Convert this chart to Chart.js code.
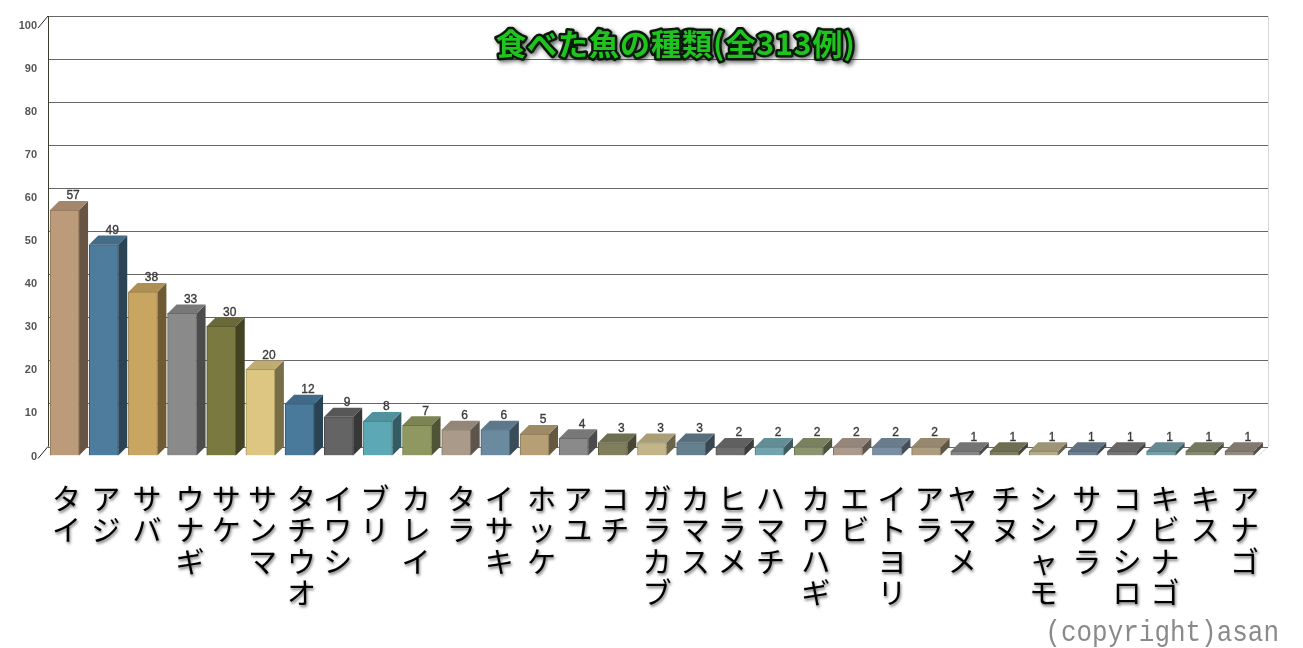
<!DOCTYPE html>
<html><head><meta charset="utf-8">
<style>html,body{margin:0;padding:0;background:#fff}#w{position:relative;width:1303px;height:648px}</style>
<script src="https://cdn.jsdelivr.net/npm/chart.js@4/dist/chart.umd.min.js"></script>
</head><body><div id="w"><canvas id="c" width="1303" height="648"></canvas></div>
<script>
const TITLE = '食べた魚の種類(全313例)';
const COPYRIGHT = '(copyright)asan';
const categories = ['タイ','アジ','サバ','ウナギ','サケ','サンマ','タチウオ','イワシ','ブリ','カレイ','タラ','イサキ','ホッケ','アユ','コチ','ガラカブ','カマス','ヒラメ','ハマチ','カワハギ','エビ','イトヨリ','アラ','ヤマメ','チヌ','シシャモ','サワラ','コノシロ','キビナゴ','キス','アナゴ'];
const values = [57,49,38,33,30,20,12,9,8,7,6,6,5,4,3,3,3,2,2,2,2,2,2,1,1,1,1,1,1,1,1];
const colors = ['#bc9b7a','#4d7c9c','#c8a561','#8a8a8a','#7a7a40','#dcc681','#4a7a9b','#646464','#5ca8b5','#8f9860','#a99a8a','#6a8a9f','#b79f75','#8a8a8a','#7f7f5d','#c2b688','#64808f','#6e6e6e','#73a3ac','#8a9570','#aa9a8c','#7a90a2','#ac9c80','#858585','#7e7e62','#b3ab8a','#6f8294','#767676','#759ea8','#878a70','#948a80'];
const yTicks = [0,10,20,30,40,50,60,70,80,90,100];
const labelNudge = [0,0,2,6,3,0,0,-3,-5,-3,3,2,5,2,0,3,2,0,-1,5,5,3,1,-5,-1,-2,2,3,2,3,3];
const DX = 9, DY = 9;
function shade(h,f){const n=parseInt(h.slice(1),16);return 'rgb('+[(n>>16)&255,(n>>8)&255,n&255].map(v=>Math.round(v*f)).join(',')+')';}
function poly(ctx,pts,fill){ctx.beginPath();pts.forEach((p,i)=>i?ctx.lineTo(p[0],p[1]):ctx.moveTo(p[0],p[1]));ctx.closePath();ctx.fillStyle=fill;ctx.fill();}
const wall3d = {
  id:'wall3d',
  beforeDraw(chart){
    const x=chart.scales.x, ctx=chart.ctx;
    if(!x._wrapped){
      x._wrapped=true;
      const orig=x.drawLabels, getItems=x.getLabelItems;
      x.getLabelItems=function(a){
        const items=getItems.call(this,a);
        if(!this._nudged){this._nudged=true;items.forEach((it,i)=>{it.options.translation[0]+=labelNudge[i];});}
        return items;
      };
      x.drawLabels=function(a){ctx.save();ctx.shadowColor='rgba(0,0,0,.55)';ctx.shadowBlur=3;ctx.shadowOffsetX=1;ctx.shadowOffsetY=2;orig.call(this,a);ctx.restore();};
    }
  },
  beforeDatasetsDraw(chart){
    const ctx=chart.ctx, y=chart.scales.y, a=chart.chartArea;
    const L=a.left-6+DX, R=a.right+DX, fL=a.left-6;
    ctx.save();
    ctx.lineWidth=1;
    ctx.strokeStyle='#d8d8d8';
    ctx.beginPath();ctx.moveTo(R+.5,y.getPixelForValue(100)-DY);ctx.lineTo(R+.5,y.getPixelForValue(0)-DY);ctx.stroke();
    ctx.beginPath();ctx.moveTo(R,y.getPixelForValue(0)-DY);ctx.lineTo(a.right,y.getPixelForValue(0));ctx.stroke();
    y.ticks.forEach(t=>{
      const p=Math.round(y.getPixelForValue(t.value)-DY)+.5;
      ctx.strokeStyle='#666';
      ctx.beginPath();ctx.moveTo(L,p);ctx.lineTo(R,p);ctx.stroke();
    });
    ctx.strokeStyle='#3c3c2c';
    ctx.beginPath();ctx.moveTo(L+.5,y.getPixelForValue(100)-DY);ctx.lineTo(L+.5,y.getPixelForValue(0)-DY);ctx.stroke();
    ctx.strokeStyle='#222';
    [100,0].forEach(v=>{const p=y.getPixelForValue(v);ctx.beginPath();ctx.moveTo(L,p-DY);ctx.lineTo(fL-1,p+3);ctx.stroke();});
    const meta=chart.getDatasetMeta(0);
    meta.data.forEach((b,i)=>{
      const l=b.x-b.width/2, r=b.x+b.width/2, t=b.y, bo=b.base, c=colors[i];
      poly(ctx,[[r,t],[r+DX,t-DY],[r+DX,bo-DY],[r,bo]],shade(c,.55));
      poly(ctx,[[l,t],[l+DX,t-DY],[r+DX,t-DY],[r,t]],shade(c,.87));
    });
    ctx.restore();
  },
  afterDatasetsDraw(chart){
    const ctx=chart.ctx;
    ctx.save();
    ctx.font='12px "Liberation Sans"';ctx.fillStyle='#333';ctx.strokeStyle='#444';ctx.lineWidth=.35;ctx.textAlign='center';ctx.textBaseline='middle';
    chart.getDatasetMeta(0).data.forEach((b,i)=>{const s=String(values[i]),px=b.x+DX-.5,py=b.y-DY-5;ctx.fillText(s,px,py);ctx.strokeText(s,px,py);});
    ctx.font='bold 30px "Noto Sans CJK JP"';ctx.textAlign='center';
    ctx.letterSpacing='1px';
    ctx.lineJoin='round';
    ctx.save();ctx.shadowColor='rgba(0,0,0,.6)';ctx.shadowBlur=4;ctx.shadowOffsetX=2;ctx.shadowOffsetY=2;
    ctx.strokeStyle='#0a1a0a';ctx.lineWidth=5;ctx.strokeText(TITLE,676,44);ctx.restore();
    ctx.fillStyle='#1fc41f';ctx.fillText(TITLE,676,44);
    ctx.letterSpacing='0px';
    ctx.translate(1279,633);ctx.scale(.895,1);
    ctx.font='29px "Liberation Mono"';ctx.fillStyle='#8a8a8a';ctx.textAlign='right';
    ctx.fillText(COPYRIGHT,0,0);
    ctx.restore();
  }
};
new Chart(document.getElementById('c'),{
  type:'bar',
  data:{labels:categories.map(s=>Array.from(s)),datasets:[{data:values,backgroundColor:colors,borderColor:colors.map(c=>shade(c,.75)),borderWidth:1,barThickness:29}]},
  plugins:[wall3d],
  options:{
    responsive:false,animation:false,devicePixelRatio:1,
    layout:{padding:{top:25,right:44,left:0,bottom:0}},
    plugins:{legend:{display:false},tooltip:{enabled:false},title:{display:false}},
    scales:{
      x:{
        grid:{display:false},border:{display:false},
        afterFit(s){s.height=192.5;},
        ticks:{autoRotate:false,maxRotation:0,minRotation:0,autoSkip:false,padding:20,color:'#000',labelOffset:2,
          font:{family:'"Noto Sans CJK JP"',size:29,lineHeight:31.3/29}}
      },
      y:{
        min:0,max:100,
        afterFit(s){s.width=45;},
        afterBuildTicks(s){s.ticks=yTicks.map(v=>({value:v}));},
        grid:{display:false},border:{display:false},
        ticks:{color:'#555',padding:0,labelOffset:1,font:{family:'"Liberation Sans"',size:11,weight:'bold'}}
      }
    }
  }
});
</script></body></html>
